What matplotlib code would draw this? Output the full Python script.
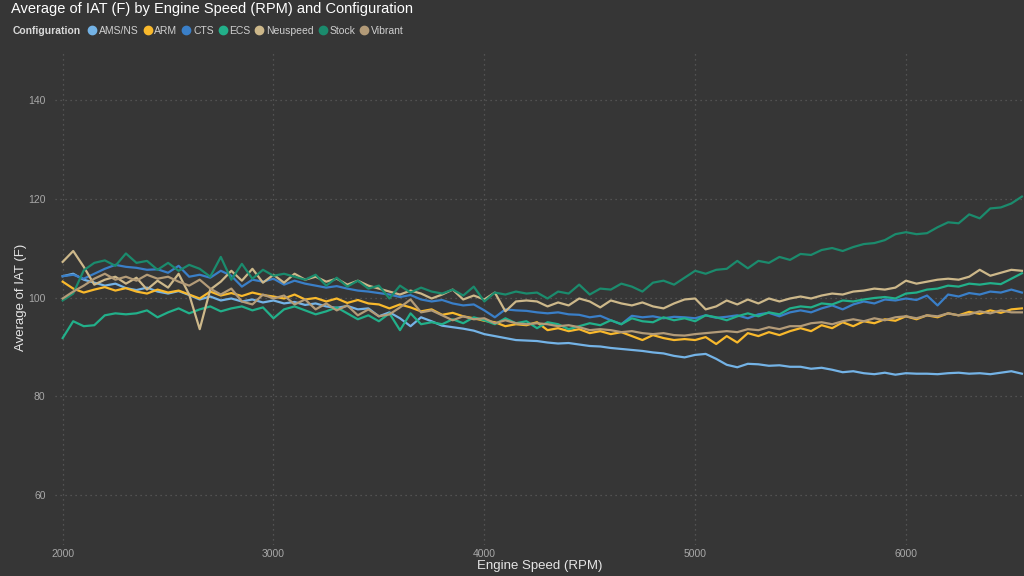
import numpy as np
import matplotlib
matplotlib.use("Agg")
import matplotlib.pyplot as plt
from matplotlib.lines import Line2D

plt.rcParams['font.family'] = ['Liberation Sans', 'DejaVu Sans']

rpm = list(range(2000, 6600, 50))

ams_ns = [104.3, 104.8, 103.6, 103.0, 102.4, 102.8, 101.9, 101.5, 102.0, 101.2,
          100.8, 101.3, 100.5, 99.6, 100.2, 99.4, 99.8, 99.2, 99.6, 99.0,
          99.4, 98.8, 99.1, 98.5, 98.8, 98.2, 97.9, 98.3, 97.6, 97.8,
          96.2, 97.0, 95.8, 94.2, 96.0, 95.2, 94.3, 94.0, 93.7, 93.3,
          92.6, 92.2, 91.8, 91.4, 91.3, 91.2, 90.9, 90.7, 90.8, 90.5,
          90.2, 90.1, 89.8, 89.6, 89.4, 89.2, 88.9, 88.7, 88.2, 87.9,
          88.4, 88.6, 87.6, 86.4, 85.9, 86.6, 86.5, 86.2, 86.3, 86.0,
          86.0, 85.6, 85.8, 85.4, 84.9, 85.1, 84.7, 84.5, 84.8, 84.4,
          84.7, 84.6, 84.6, 84.5, 84.7, 84.8, 84.6, 84.7, 84.5, 84.8,
          85.1, 84.6]

arm = [103.2, 101.8, 101.0, 101.6, 102.1, 101.4, 101.9, 101.2, 100.8, 101.6,
       101.0, 101.4, 100.6, 99.8, 101.2, 100.4, 100.9, 100.3, 101.0, 100.5,
       100.2, 99.8, 100.6, 99.6, 99.9, 99.2, 99.8, 98.9, 99.5, 98.8,
       98.6, 97.8, 98.6, 98.0, 97.2, 97.6, 96.5, 96.9, 96.2, 95.8,
       95.3, 95.0, 94.2, 94.6, 94.4, 95.0, 93.4, 93.8, 93.2, 93.6,
       92.8, 93.2, 92.6, 93.0, 92.2, 91.4, 92.4, 91.8, 91.4, 91.6,
       91.4, 92.0, 90.6, 92.2, 90.9, 92.8, 92.2, 93.0, 92.4, 93.2,
       93.8, 93.2, 94.4, 93.8, 95.0, 94.2, 95.2, 94.8, 95.6, 95.3,
       96.2, 95.6, 96.4, 96.0, 96.8, 96.4, 97.1, 96.7, 97.4, 96.9,
       97.6, 97.8]

cts = [104.3, 104.6, 103.8, 104.8, 105.8, 106.6, 106.2, 106.0, 105.6, 105.7,
       105.0, 106.4, 104.2, 104.6, 104.0, 105.4, 104.4, 102.2, 103.6, 103.2,
       103.8, 102.6, 103.4, 102.8, 102.4, 102.0, 102.3, 101.8, 101.4, 101.2,
       100.9, 100.6, 100.1, 100.5, 99.6, 99.2, 99.5, 98.8, 98.4, 98.6,
       97.4, 96.0, 97.6, 97.4, 97.3, 97.0, 96.8, 97.0, 96.6, 96.5,
       96.0, 96.3, 95.4, 94.6, 96.3, 96.0, 96.2, 95.8, 96.1, 96.0,
       95.8, 96.4, 95.9, 96.1, 96.4, 95.8, 96.6, 96.9, 96.2, 97.0,
       97.4, 97.0, 97.8, 98.4, 97.6, 98.6, 99.2, 98.8, 99.6, 99.4,
       99.8, 99.5, 100.4, 98.4, 100.6, 100.2, 100.9, 100.6, 101.2, 101.0,
       101.6, 101.0]

ecs = [91.8, 95.2, 94.2, 94.4, 96.4, 96.8, 96.6, 96.8, 97.4, 96.0,
       97.0, 97.8, 96.8, 97.6, 98.2, 97.2, 97.8, 98.2, 97.4, 98.0,
       95.8, 97.6, 98.2, 97.4, 96.6, 97.2, 98.0, 96.8, 95.6, 96.4,
       95.2, 96.8, 93.4, 96.8, 94.6, 95.0, 94.6, 95.6, 94.8, 96.0,
       95.4, 94.6, 95.8, 94.8, 95.2, 93.8, 95.0, 94.6, 93.6, 94.2,
       94.8, 94.4, 95.4, 94.6, 95.8, 95.2, 95.0, 96.0, 95.4, 95.8,
       95.2, 96.4, 96.0, 95.4, 96.2, 96.8, 96.2, 97.0, 96.6, 97.8,
       98.2, 98.0, 98.8, 98.6, 99.4, 99.2, 99.6, 99.9, 100.1, 99.8,
       100.8, 101.0, 101.6, 101.8, 102.4, 102.2, 102.8, 102.6, 102.9, 102.7,
       103.8, 104.9]

neuspeed = [107.2, 109.4, 106.2, 102.6, 103.6, 104.2, 102.8, 104.0, 101.6, 103.4,
            102.0, 104.8, 100.6, 93.6, 101.6, 103.2, 105.4, 103.4, 105.8, 103.0,
            104.6, 103.0, 104.8, 103.6, 104.2, 103.2, 103.8, 102.6, 103.4, 102.4,
            101.8, 101.2, 100.6, 101.4, 100.8, 99.8, 100.6, 101.6, 99.6, 100.4,
            99.6, 101.0, 97.2, 99.2, 99.4, 99.2, 98.2, 99.0, 98.4, 99.8,
            99.2, 98.0, 99.4, 98.8, 98.4, 99.0, 98.2, 97.8, 98.8, 99.6,
            99.8, 97.6, 98.2, 99.4, 98.6, 99.6, 98.8, 99.8, 99.2, 99.8,
            100.2, 99.8, 100.4, 100.8, 100.6, 101.2, 101.4, 101.8, 101.6, 102.0,
            103.4, 102.8, 103.2, 103.6, 103.8, 103.6, 104.2, 105.6, 104.4, 105.0,
            105.6, 105.4]

stock = [99.4, 100.8, 105.5, 107.0, 107.5, 106.4, 108.9, 107.0, 107.4, 105.6,
         107.0, 105.4, 106.6, 105.8, 104.2, 108.2, 103.6, 106.8, 103.8, 105.6,
         104.4, 104.8, 104.2, 103.6, 104.6, 102.4, 104.0, 102.2, 103.4, 101.8,
         102.4, 99.8, 102.4, 101.0, 102.0, 101.2, 100.8, 101.6, 100.4, 102.2,
         99.2, 101.0, 100.6, 101.2, 100.8, 101.0, 99.8, 101.2, 100.8, 102.6,
         100.6, 101.8, 101.6, 102.8, 102.2, 101.2, 103.0, 103.4, 102.6, 104.0,
         105.4, 104.8, 105.6, 105.8, 107.4, 105.9, 107.4, 107.0, 108.2, 107.6,
         108.8, 108.6, 109.6, 110.0, 109.4, 110.2, 110.8, 111.0, 111.6, 112.8,
         113.2, 112.8, 113.0, 114.2, 115.2, 115.0, 116.8, 116.0, 118.0, 118.2,
         119.0, 120.4]

vibrant = [99.8, 101.2, 102.4, 103.8, 104.8, 103.6, 104.2, 103.4, 104.6, 103.8,
           104.2, 103.2, 102.4, 103.6, 101.8, 100.6, 101.8, 99.2, 98.6, 100.6,
           99.8, 100.4, 98.6, 99.6, 97.6, 98.8, 97.4, 98.4, 96.4, 97.6,
           96.2, 96.6, 98.0, 99.6, 97.0, 97.4, 96.4, 95.4, 96.2, 95.6,
           95.8, 94.8, 95.4, 94.8, 94.6, 94.8, 94.6, 94.2, 94.4, 94.0,
           93.4, 93.6, 93.4, 93.0, 93.2, 92.8, 92.6, 92.8, 92.4, 92.3,
           92.6, 92.8, 93.0, 93.2, 93.0, 93.6, 93.4, 94.0, 93.6, 94.2,
           94.2, 94.8, 95.0, 94.6, 95.2, 95.6, 95.2, 95.8, 95.4, 96.0,
           96.2, 95.8, 96.4, 96.2, 96.8, 96.4, 96.6, 97.2, 96.8, 97.4,
           97.0, 97.0]

names = ['AMS/NS', 'ARM', 'CTS', 'ECS', 'Neuspeed', 'Stock', 'Vibrant']
series = [ams_ns, arm, cts, ecs, neuspeed, stock, vibrant]
colors = ['#74B3E6', '#F9B92C', '#3A7FC8', '#22B08A', '#CDB88A', '#1B8B6D', '#B39B78']

bg = '#363636'
fig = plt.figure(figsize=(10.24, 5.76), dpi=100, facecolor=bg)
ax = fig.add_axes([0.054, 0.054, 0.946, 0.859], facecolor=bg)

for name, vals, c in zip(names, series, colors):
    ax.plot(rpm, vals, color=c, lw=1.6, label=name)

ax.set_xlim(1965, 6560)
ax.set_ylim(50, 150)
ax.set_xticks([2000, 3000, 4000, 5000, 6000])
ax.set_yticks([60, 80, 100, 120, 140])
ax.grid(True, color='#5c5c5c', linestyle=(0, (1, 3)), lw=0.9)
ax.set_axisbelow(True)
for s in ax.spines.values():
    s.set_visible(False)
ax.tick_params(length=0, colors='#a8a8a8', labelsize=7.5)
ax.tick_params(axis='x', pad=3)
ax.tick_params(axis='y', pad=7)

ax.set_xlabel('Engine Speed (RPM)', color='#e6e6e6', fontsize=9.5, labelpad=1)
ax.set_ylabel('Average of IAT (F)', color='#e6e6e6', fontsize=9.5, labelpad=1)

fig.text(0.011, 0.997, 'Average of IAT (F) by Engine Speed (RPM) and Configuration',
         color='white', fontsize=10.5, ha='left', va='top')
fig.text(0.012, 0.946, 'Configuration', color='#d9d9d9', fontsize=7.5,
         fontweight='bold', ha='left', va='center')

handles = [Line2D([], [], marker='o', ls='', color=c, markersize=6) for c in colors]
leg = fig.legend(handles, names, loc='center left', bbox_to_anchor=(0.085, 0.946),
                 ncol=7, frameon=False, fontsize=7.5, handletextpad=0.15,
                 columnspacing=0.35, handlelength=1.0, borderaxespad=0, borderpad=0)
for t in leg.get_texts():
    t.set_color('#cfcfcf')

fig.savefig('out.png', dpi=100, facecolor=bg)
